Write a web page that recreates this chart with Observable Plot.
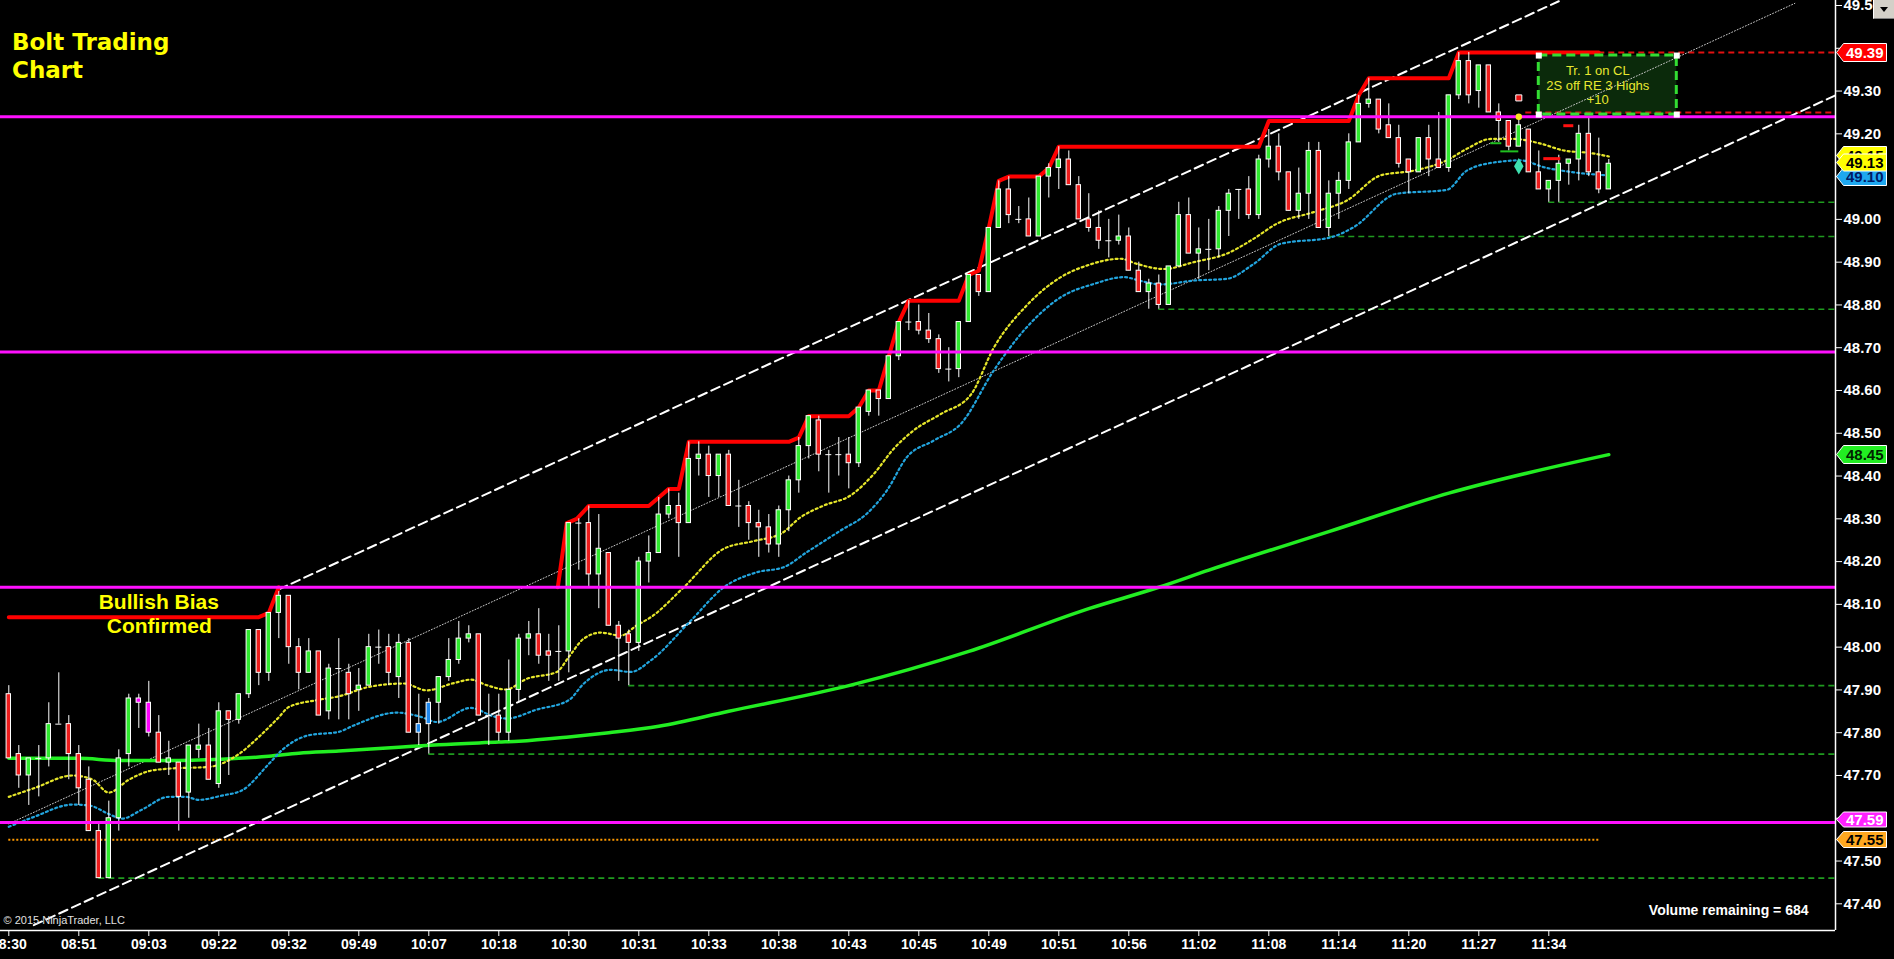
<!DOCTYPE html>
<html><head><meta charset="utf-8">
<script src="https://cdn.jsdelivr.net/npm/d3@7"></script>
<script src="https://cdn.jsdelivr.net/npm/@observablehq/plot@0.6"></script>
<style>
html,body{margin:0;padding:0;background:#000;overflow:hidden;}
#wrap{position:relative;width:1894px;height:959px;}
#wrap svg{display:block;}
#dd{position:absolute;left:1873px;top:0;width:21px;height:19px;background:#d4d0c8;border-left:1px solid #fff;border-bottom:1px solid #808080;box-sizing:border-box;}
#dd:after{content:"";position:absolute;left:6px;top:7px;border-left:4px solid transparent;border-right:4px solid transparent;border-top:5px solid #000;}
</style></head><body><div id="wrap"><div id="dd"></div></div>
<script>
// ---------- data ----------
const timeLabels = ["08:30","08:51","09:03","09:22","09:32","09:49","10:07","10:18","10:30","10:31","10:33","10:38","10:43","10:45","10:49","10:51","10:56","11:02","11:08","11:14","11:20","11:27","11:34"];
const barsPerLabel = 7;
const priceTicks = [47.4,47.5,47.6,47.7,47.8,47.9,48.0,48.1,48.2,48.3,48.4,48.5,48.6,48.7,48.8,48.9,49.0,49.1,49.2,49.3,49.4,49.5];

const opens = [47.89,47.75,47.70,47.74,47.74,47.82,47.82,47.75,47.69,47.57,47.46,47.60,47.75,47.88,47.87,47.80,47.73,47.73,47.66,47.76,
47.77,47.68,47.85,47.83,47.89,48.04,47.94,48.08,48.12,48.00,47.94,47.99,47.85,47.95,47.94,47.90,47.91,48.00,48.00,47.93,
48.01,47.80,47.82,47.87,47.93,47.97,48.02,48.03,47.84,47.84,47.80,47.90,48.02,48.03,47.99,47.99,47.99,48.29,48.29,48.17,
48.22,48.05,48.03,48.01,48.20,48.22,48.31,48.33,48.29,48.44,48.45,48.40,48.45,48.33,48.33,48.29,48.28,48.24,48.32,48.39,
48.47,48.53,48.45,48.45,48.45,48.43,48.55,48.60,48.58,48.68,48.76,48.76,48.74,48.72,48.65,48.65,48.76,48.87,48.83,48.98,
49.07,49.00,49.00,48.96,49.10,49.12,49.14,49.08,49.00,48.98,48.95,48.95,48.96,48.88,48.83,48.85,48.80,48.89,49.01,48.92,
48.93,48.93,49.02,49.07,49.07,49.01,49.14,49.17,49.11,49.02,49.06,49.16,48.98,49.06,49.09,49.18,49.27,49.28,49.22,49.19,
49.14,49.11,49.19,49.14,49.12,49.29,49.37,49.30,49.36,49.25,49.23,49.17,49.21,49.11,49.07,49.09,49.13,49.14,49.20,49.11,49.07];
const highs = [47.91,47.77,47.74,47.77,47.87,47.94,47.84,47.77,47.72,47.59,47.64,47.76,47.89,47.89,47.92,47.84,47.78,47.73,47.77,47.82,
47.81,47.87,47.85,47.89,48.04,48.04,48.08,48.13,48.12,48.02,48.02,47.99,47.96,48.02,47.96,47.95,48.03,48.04,48.03,48.03,
48.02,47.89,47.88,47.93,48.02,48.06,48.05,48.03,47.89,47.89,47.97,48.03,48.06,48.09,48.03,48.05,48.29,48.30,48.33,48.31,
48.22,48.06,48.04,48.21,48.26,48.35,48.37,48.36,48.48,48.48,48.47,48.45,48.46,48.39,48.34,48.32,48.31,48.33,48.40,48.49,
48.54,48.54,48.46,48.49,48.49,48.56,48.60,48.60,48.68,48.76,48.81,48.80,48.78,48.73,48.70,48.76,48.87,48.87,48.98,49.09,
49.10,49.03,49.05,49.10,49.13,49.17,49.16,49.10,49.06,49.02,49.00,49.01,48.98,48.90,48.86,48.87,48.89,49.04,49.05,48.98,
49.00,49.03,49.07,49.07,49.10,49.15,49.21,49.20,49.11,49.12,49.18,49.18,49.09,49.11,49.20,49.29,49.33,49.28,49.27,49.22,
49.14,49.19,49.22,49.25,49.29,49.39,49.39,49.36,49.36,49.27,49.23,49.24,49.21,49.16,49.09,49.15,49.14,49.22,49.24,49.19,49.14];
const lows = [47.74,47.67,47.63,47.65,47.72,47.82,47.69,47.63,47.57,47.46,47.46,47.57,47.72,47.81,47.79,47.73,47.70,47.57,47.60,47.74,
47.69,47.67,47.70,47.82,47.88,47.91,47.92,48.02,47.96,47.90,47.94,47.84,47.83,47.83,47.83,47.85,47.91,47.96,47.91,47.88,
47.80,47.77,47.75,47.82,47.92,47.96,48.01,47.84,47.77,47.78,47.78,47.87,47.98,47.96,47.92,47.92,47.94,48.18,48.14,48.09,
48.05,47.92,47.91,47.99,48.15,48.22,48.30,48.21,48.29,48.40,48.35,48.35,48.33,48.28,48.25,48.21,48.22,48.21,48.27,48.36,
48.44,48.41,48.36,48.40,48.37,48.42,48.54,48.54,48.58,48.67,48.74,48.73,48.71,48.64,48.62,48.63,48.76,48.82,48.83,48.98,
48.99,48.99,48.96,48.96,49.05,49.07,49.08,49.00,48.97,48.93,48.91,48.94,48.88,48.83,48.79,48.79,48.80,48.89,48.92,48.86,
48.88,48.91,48.96,49.00,49.00,49.00,49.12,49.09,49.02,49.00,49.00,48.98,48.96,49.00,49.07,49.18,49.26,49.20,49.19,49.12,
49.06,49.11,49.10,49.12,49.11,49.28,49.27,49.26,49.25,49.18,49.16,49.17,49.11,49.07,49.04,49.04,49.08,49.09,49.10,49.06,49.07];
const closes = [47.74,47.70,47.74,47.74,47.82,47.82,47.75,47.67,47.57,47.46,47.60,47.74,47.88,47.87,47.80,47.73,47.74,47.65,47.77,47.77,
47.69,47.85,47.83,47.89,48.04,47.94,48.08,48.12,48.00,47.94,47.99,47.84,47.95,47.95,47.89,47.91,48.00,48.00,47.94,48.01,
47.80,47.82,47.87,47.93,47.97,48.02,48.03,47.84,47.84,47.80,47.90,48.02,48.03,47.98,47.98,47.99,48.29,48.29,48.17,48.23,
48.05,48.02,48.01,48.20,48.22,48.31,48.33,48.29,48.44,48.45,48.40,48.45,48.33,48.33,48.29,48.28,48.24,48.32,48.39,48.47,
48.54,48.45,48.45,48.45,48.43,48.56,48.60,48.58,48.68,48.76,48.76,48.74,48.72,48.65,48.65,48.76,48.87,48.83,48.98,49.07,
49.01,49.00,48.96,49.10,49.12,49.14,49.08,49.00,48.98,48.95,48.95,48.96,48.88,48.83,48.85,48.80,48.89,49.01,48.92,48.93,
48.93,49.02,49.06,49.07,49.01,49.14,49.17,49.11,49.02,49.06,49.16,48.98,49.06,49.09,49.18,49.27,49.28,49.21,49.19,49.13,
49.11,49.19,49.14,49.12,49.29,49.37,49.29,49.36,49.25,49.23,49.17,49.22,49.11,49.07,49.09,49.13,49.14,49.20,49.11,49.07,49.13];
const magentaBars = [13, 14];
const blueBars = [41, 42];

// indicator readings: [bar, price]
const highLineA = [[0,48.07],[25,48.07],[26,48.08],[27,48.14]];
const highLineB = [[54.9,48.14],[55.8,48.29],[56.8,48.30],[58,48.33],[64,48.33],[65,48.35],[66,48.37],[67,48.37],[68,48.48],[78,48.48],[79,48.49],[80,48.54],[84,48.54],[85,48.56],[86,48.60],[87,48.60],[88,48.68],[89,48.76],[90,48.81],[95,48.81],[96,48.87],[97,48.88],[98,48.98],[99,49.09],[100,49.10],[103,49.10],[104,49.12],[105,49.17],[125,49.17],[126,49.23],[134,49.23],[135,49.29],[136,49.33],[144,49.33],[145,49.39],[159,49.39]];
const smaSlow = [[0,47.74],[7,47.74],[11,47.735],[17,47.735],[23,47.74],[26,47.745],[29,47.752],[33,47.757],[39,47.766],[43,47.772],[49,47.778],[51,47.78],[56,47.79],[60,47.80],[65,47.815],[72,47.85],[84,47.91],[96,47.99],[108,48.09],[115,48.14],[120,48.18],[132,48.27],[144,48.36],[160,48.45]];
const emaFast = [[0,47.65],[2.5,47.67],[6.4,47.70],[8.4,47.69],[10,47.66],[12,47.69],[14,47.71],[16,47.716],[20,47.72],[23,47.75],[25,47.79],[27,47.836],[28,47.86],[31,47.877],[33,47.885],[36,47.907],[39.5,47.915],[41.8,47.899],[44.5,47.916],[46.2,47.924],[47.8,47.911],[49.7,47.901],[51.8,47.926],[54.8,47.942],[56,47.977],[57.5,48.02],[59.2,48.034],[61.2,48.027],[62.8,48.051],[64.2,48.07],[67.5,48.14],[71.5,48.23],[74.5,48.248],[77.2,48.265],[79.2,48.304],[81.5,48.331],[84.2,48.355],[86.5,48.405],[88.5,48.464],[90.5,48.507],[93.2,48.545],[96.2,48.59],[98.5,48.70],[101.8,48.799],[105.2,48.865],[107.8,48.892],[111.2,48.908],[112.8,48.896],[115.5,48.884],[118.5,48.90],[121.8,48.92],[124.5,48.955],[126.8,48.99],[130.5,49.017],[133.8,49.044],[137.2,49.103],[140.5,49.114],[143.8,49.138],[145.8,49.165],[148.2,49.188],[150.5,49.188],[153.2,49.177],[155.5,49.161],[158.2,49.155],[160,49.147]];
const emaMid = [[0,47.58],[2.5,47.603],[6.4,47.632],[8,47.63],[10,47.61],[11.3,47.599],[13.3,47.62],[16,47.65],[17.7,47.65],[19,47.643],[21.3,47.653],[23.3,47.665],[26,47.727],[27.3,47.759],[30,47.794],[33,47.802],[34.5,47.817],[38.8,47.847],[41.2,47.837],[42.8,47.825],[46.2,47.858],[48.5,47.838],[49.8,47.833],[52.8,47.854],[56,47.876],[57.5,47.915],[60.2,47.947],[62.2,47.942],[64.2,47.969],[68.2,48.062],[71.5,48.14],[74.8,48.175],[77.5,48.187],[79.8,48.222],[83.2,48.273],[85.8,48.312],[87.8,48.366],[89.8,48.444],[92.5,48.483],[95.2,48.522],[98.5,48.647],[101.8,48.748],[105.2,48.818],[108.5,48.849],[111.5,48.865],[113.2,48.856],[115.2,48.848],[118.5,48.857],[121.8,48.861],[124.5,48.896],[127.2,48.943],[132.2,48.958],[134.5,48.982],[138.8,49.06],[143.8,49.069],[145.8,49.114],[148.8,49.134],[151.2,49.138],[153.5,49.122],[156.5,49.11],[159.8,49.103]];
const regressionLine = [[0,47.587],[178.6,49.505]];
const channelUpper = [[27,48.135],[155,49.51]];
const channelLower = [[2.5,47.35],[182.67,49.29]];

const magentaLevels = [49.24, 48.69, 48.14, 47.59];
const swingLows = [[9,47.46],[42,47.75],[62,47.91],[115,48.79],[132,48.96],[154,49.04]];
const stopLevels = [[159,49.39],[151.7,49.25]];
const orangeLevel = [[0,159,47.55]];
const shortRedMarks = [[153.5,155.2,49.142],[155.5,156.5,49.219]];
const shortGreenMarks = [[148.2,149.3,49.178],[149.2,151,49.159]];
const entryBar = 151;
const entrySquare = 49.284, entryDot = 49.24, entryDiamond = 49.124;
const tradeBox = {startBar:153, endBar:166.8, top:49.383, bottom:49.245};
const tradeText = "Tr. 1 on CL\n2S off RE 3 Highs\n+10";
const tagNames = ["highLine","emaFast","emaMid","last","smaSlow","magenta","orange"];
const tagValues = [49.39, 49.15, 49.10, 49.13, 48.45, 47.59, 47.55];
const volumeRemaining = 684;

// ---------- build ----------
const xDomain = [-0.83, 182.67];
const yDomain = [47.3376, 49.5117];
const GREEN = "#2ee82e", RED = "#ee1c1c";
const candles = opens.map((o, i) => ({i, open: o, high: highs[i], low: lows[i], close: closes[i]}));
const bodyColor = d => magentaBars.includes(d.i) ? "#ff00ff" : blueBars.includes(d.i) ? "#1e88ee"
  : d.close > d.open ? GREEN : RED;
const dojis = candles.filter(d => d.close === d.open);
const tickBars = timeLabels.map((_, k) => k * barsPerLabel);
const P = d => d[0], V = d => d[1];

const tagStyle = {
  highLine: {fill: "#ff0000", text: "#ffffff", h: 9, nudge: 0},
  emaFast: {fill: "#ffff00", text: "#000000", h: 9, nudge: 0},
  emaMid: {fill: "#1ea8f0", text: "#001a66", h: 9, nudge: 0},
  last: {fill: "#ffff00", text: "#000000", h: 8.5, nudge: -1},
  smaSlow: {fill: "#22ee22", text: "#002200", h: 9, nudge: 0},
  magenta: {fill: "#ff22ff", text: "#ffffff", h: 7.5, nudge: -3},
  orange: {fill: "#ffa820", text: "#000000", h: 8, nudge: 0}
};

function tagMark(index, scales, values, dimensions) {
  const g = d3.create("svg:g");
  const x0 = dimensions.width - dimensions.marginRight + 1.5;
  const w = 50;
  tagNames.forEach((name, k) => {
    const s = tagStyle[name];
    const h = s.h;
    const y = Math.round(scales.y(tagValues[k])) + 0.5 + s.nudge;
    g.append("path")
      .attr("d", `M${x0},${y} L${x0 + 7},${y - h} L${x0 + w},${y - h} L${x0 + w},${y + h} L${x0 + 7},${y + h} Z`)
      .attr("fill", s.fill).attr("stroke", "#ffffff").attr("stroke-width", 1);
    g.append("text")
      .attr("x", x0 + w - 3).attr("y", y).attr("dy", "0.36em")
      .attr("text-anchor", "end").attr("fill", s.text)
      .attr("font-family", "'Liberation Sans', Arial, sans-serif")
      .attr("font-weight", "bold").attr("font-size", 15)
      .text(d3.format(".2f")(tagValues[k]));
  });
  return g.node();
}

const xMax = xDomain[1];
const boxCorners = [
  [tradeBox.startBar, tradeBox.top], [tradeBox.endBar, tradeBox.top],
  [tradeBox.startBar, tradeBox.bottom], [tradeBox.endBar, tradeBox.bottom]
];

const chart = Plot.plot({
  width: 1894, height: 959,
  marginLeft: 0, marginRight: 59, marginTop: 0, marginBottom: 29,
  x: {domain: xDomain, axis: null},
  y: {domain: yDomain, axis: null},
  color: {type: "identity"},
  style: {background: "#000", color: "#fff", fontFamily: "'Liberation Sans', Arial, sans-serif", overflow: "visible"},
  marks: [
    // trade box fill
    Plot.rect([tradeBox], {x1: "startBar", x2: "endBar", y1: "top", y2: "bottom", fill: "#0b2a0b"}),
    // swing low support lines
    Plot.ruleY(swingLows, {y: V, x1: P, x2: () => xMax, stroke: "#1f9a1f", strokeWidth: 1.6, strokeDasharray: "6,4"}),
    // orange dotted
    Plot.ruleY(orangeLevel, {y: d => d[2], x1: d => d[0], x2: d => d[1], stroke: "#ff9a00", strokeWidth: 2, strokeDasharray: "2,2"}),
    // red dashed stop lines
    Plot.ruleY(stopLevels, {y: V, x1: P, x2: () => xMax, stroke: "#e01010", strokeWidth: 2, strokeDasharray: "6,4"}),
    // regression & channel
    Plot.line(regressionLine, {x: P, y: V, stroke: "#c8c8c8", strokeWidth: 1, strokeDasharray: "1,2"}),
    Plot.line(channelUpper, {x: P, y: V, stroke: "#ffffff", strokeWidth: 2, strokeDasharray: "9,5"}),
    Plot.line(channelLower, {x: P, y: V, stroke: "#ffffff", strokeWidth: 2, strokeDasharray: "9,5"}),
    // moving averages
    Plot.line(smaSlow, {x: P, y: V, stroke: "#22ee22", strokeWidth: 3.5, curve: "monotone-x"}),
    Plot.line(emaMid, {x: P, y: V, stroke: "#22a4dd", strokeWidth: 2.2, strokeDasharray: "2,3", curve: "monotone-x"}),
    Plot.line(emaFast, {x: P, y: V, stroke: "#e6e62a", strokeWidth: 2.2, strokeDasharray: "2,3", curve: "monotone-x"}),
    // highest-high step line
    Plot.line(highLineA, {x: P, y: V, stroke: "#ff0000", strokeWidth: 4}),
    Plot.line(highLineB, {x: P, y: V, stroke: "#ff0000", strokeWidth: 4}),
    // candles
    Plot.ruleX(candles, {x: "i", y1: "low", y2: "high", stroke: "#ffffff", strokeWidth: 1}),
    Plot.rect(candles, {x1: d => d.i - 0.22, x2: d => d.i + 0.22, y1: "open", y2: "close", fill: bodyColor, stroke: "#ffffff", strokeWidth: 1}),
    Plot.ruleY(dojis, {y: "close", x1: d => d.i - 0.3, x2: d => d.i + 0.3, stroke: "#ffffff", strokeWidth: 1}),
    // magenta levels
    Plot.ruleY(magentaLevels, {stroke: "#ff10ff", strokeWidth: 3}),
    // short marks
    Plot.ruleY(shortRedMarks, {y: d => d[2], x1: d => d[0], x2: d => d[1], stroke: "#ff1010", strokeWidth: 3}),
    Plot.ruleY(shortGreenMarks, {y: d => d[2], x1: d => d[0], x2: d => d[1], stroke: "#1fbf1f", strokeWidth: 2}),
    // trade box border & text
    Plot.rect([tradeBox], {x1: "startBar", x2: "endBar", y1: "top", y2: "bottom", fill: "none", stroke: "#33dd33", strokeWidth: 3, strokeDasharray: "9,5"}),
    Plot.dot(boxCorners, {x: P, y: V, symbol: "square", r: 3.4, fill: "#ffffff"}),
    Plot.text([tradeText], {x: 158.9, y: 49.362, lineAnchor: "top", textAnchor: "middle", fontSize: 13, lineHeight: 1.13, fill: "#e8e830"}),
    // entry markers
    Plot.dot([entrySquare], {x: () => entryBar, y: d => d, symbol: "square", r: 3.4, fill: "#e81010", stroke: "#ffffff", strokeWidth: 1}),
    Plot.dot([entryDot], {x: () => entryBar, y: d => d, r: 3.2, fill: "#ffe020"}),
    Plot.dot([entryDiamond], {x: () => entryBar, y: d => d, symbol: "diamond", r: 5, fill: "#3ee0b0"}),
    // annotations
    Plot.text(["Bullish Bias"], {x: 15, y: 48.1045, textAnchor: "middle", fontSize: 21, fontWeight: "bold", fill: "#ffff00"}),
    Plot.text(["Confirmed"], {x: 15.05, y: 48.0484, textAnchor: "middle", fontSize: 21, fontWeight: "bold", fill: "#ffff00"}),
    Plot.text(["Bolt Trading\nChart"], {frameAnchor: "top-left", dx: 11.5, dy: 29.4, lineAnchor: "top", textAnchor: "start", fontSize: 23, lineHeight: 1.23, fontWeight: "bold", fontFamily: "'DejaVu Sans', Verdana, sans-serif", fill: "#ffff00"}),
    Plot.text(["© 2015 NinjaTrader, LLC"], {frameAnchor: "bottom-left", dx: 3, dy: -6.5, textAnchor: "start", fontSize: 11, fill: "#e0e0e0"}),
    Plot.text([`Volume remaining = ${volumeRemaining}`], {frameAnchor: "bottom-right", dx: -27, dy: -15.5, textAnchor: "end", fontSize: 14, fontWeight: "bold", fill: "#ffffff"}),
    // axes
    Plot.ruleY([yDomain[0]], {stroke: "#ffffff", strokeWidth: 1.5}),
    Plot.ruleX([xMax], {stroke: "#ffffff", strokeWidth: 1.5}),
    Plot.axisX(tickBars, {anchor: "bottom", tickFormat: d => timeLabels[tickBars.indexOf(d)], tickSize: 6, tickPadding: 3, fontSize: 14, fontWeight: "bold", color: "#ffffff", label: null}),
    Plot.axisY(priceTicks, {anchor: "right", tickFormat: d3.format(".2f"), tickSize: 6, tickPadding: 2, fontSize: 15, fontWeight: "bold", color: "#ffffff", label: null}),
    tagMark
  ]
});
document.getElementById("wrap").insertBefore(chart, document.getElementById("dd"));
</script></body></html>
